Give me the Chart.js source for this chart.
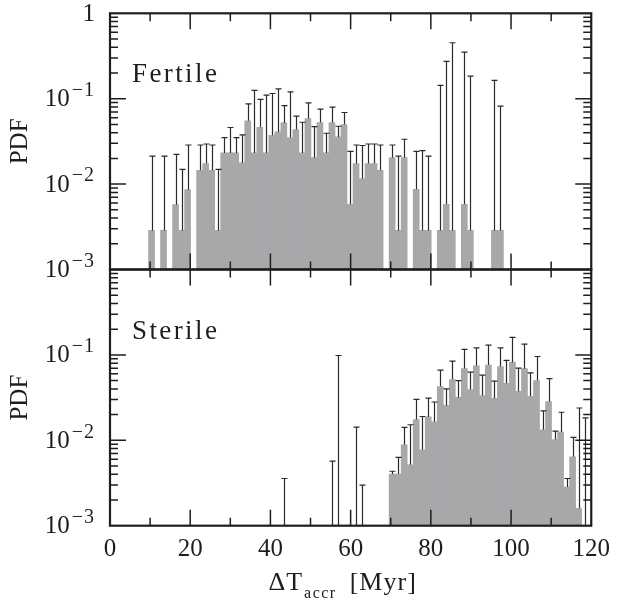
<!DOCTYPE html>
<html><head><meta charset="utf-8">
<script src="https://cdn.jsdelivr.net/npm/chart.js@4.4.1/dist/chart.umd.min.js"></script>
<style>html,body{margin:0;padding:0;background:#fff;}canvas{display:block;}</style>
</head><body>
<canvas id="c" width="619" height="604"></canvas>
<script>
// ---- data ----
// Fertile panel: bin centres (Myr), PDF value of the bar, upper end of the error bar
const fertileBins = [10.35, 13.35, 16.35, 17.85, 19.35, 22.35, 23.85, 25.35, 26.85, 28.35, 29.85, 31.35, 32.85, 34.35, 35.85, 37.35, 38.85, 40.35, 41.85, 43.35, 44.85, 46.35, 47.85, 49.35, 50.85, 52.35, 53.85, 55.35, 56.85, 58.35, 59.85, 61.35, 62.85, 64.35, 65.85, 67.35, 70.35, 71.85, 73.35, 76.35, 77.85, 79.35, 82.35, 83.85, 85.35, 88.35, 89.85, 95.85, 97.35];
const fertilePDF = [0.00287, 0.00287, 0.00574, 0.00287, 0.0086, 0.0145, 0.0174, 0.0145, 0.00287, 0.0232, 0.0232, 0.0232, 0.0177, 0.055, 0.0232, 0.0463, 0.0232, 0.0373, 0.0408, 0.052, 0.0351, 0.0435, 0.0232, 0.0586, 0.0204, 0.0526, 0.0232, 0.0526, 0.0357, 0.0498, 0.0058, 0.0174, 0.0116, 0.0174, 0.0174, 0.0145, 0.0204, 0.00287, 0.0204, 0.0087, 0.00287, 0.00287, 0.00287, 0.0058, 0.00287, 0.0058, 0.00287, 0.00287, 0.00287];
const fertileErrHi = [0.0213, 0.0213, 0.0223, 0.0149, 0.0287, 0.0287, 0.0295, 0.0287, 0.0149, 0.0351, 0.046, 0.0351, 0.0377, 0.087, 0.125, 0.098, 0.11, 0.115, 0.13, 0.083, 0.12, 0.0624, 0.053, 0.0893, 0.0472, 0.0754, 0.0394, 0.0796, 0.0476, 0.0689, 0.0242, 0.0287, 0.0283, 0.0295, 0.0295, 0.0287, 0.0287, 0.0213, 0.0335, 0.0242, 0.0247, 0.0213, 0.143, 0.273, 0.452, 0.351, 0.184, 0.164, 0.0817];

// Sterile panel (null = bar below the axis range, only its error bar shows)
const sterileBins = [43.35, 55.35, 56.85, 61.35, 62.85, 70.35, 71.85, 73.35, 74.85, 76.35, 77.85, 79.35, 80.85, 82.35, 83.85, 85.35, 86.85, 88.35, 89.85, 91.35, 92.85, 94.35, 95.85, 97.35, 98.85, 100.35, 101.85, 103.35, 104.85, 106.35, 107.85, 109.35, 110.85, 112.35, 113.85, 115.35, 116.85, 118.35];
const sterilePDF = [null, null, null, null, null, 0.00402, 0.00402, 0.00887, 0.00517, 0.0175, 0.00776, 0.0188, 0.0165, 0.0426, 0.0256, 0.0514, 0.0318, 0.0692, 0.0393, 0.0745, 0.0335, 0.076, 0.031, 0.073, 0.0465, 0.0822, 0.0375, 0.069, 0.0328, 0.0501, 0.0133, 0.0284, 0.0102, 0.0125, 0.00283, 0.00642, 0.0016, null];
const sterileErrHi = [0.00357, 0.0057, 0.0984, 0.0143, 0.00299, 0.00434, 0.0063, 0.0142, 0.0152, 0.0302, 0.019, 0.0312, 0.0281, 0.0665, 0.04, 0.0844, 0.05, 0.116, 0.063, 0.121, 0.058, 0.13, 0.0492, 0.121, 0.0865, 0.16, 0.07, 0.134, 0.0616, 0.0958, 0.0221, 0.0528, 0.0128, 0.0213, 0.00357, 0.0108, 0.0239, 0.0183];

const xTickLabels = [0, 20, 40, 60, 80, 100, 120];
const xMinorTicks = [10, 30, 50, 70, 90, 110];
const yDecades = [0, -1, -2, -3];
const panelNames = ['Fertile', 'Sterile'];
const yTitle = 'PDF';

// ---- styling ----
const FONT = '"Liberation Serif", "DejaVu Serif", serif';
const INK = '#1e1e1e';
const BAR = '#a8a8ab';

function panelPlugin() {
  return {
    id: 'panels',
    afterDatasetsDraw(chart) {
      const ctx = chart.ctx, xs = chart.scales.x;
      const sets = [
        {ys: chart.scales.yTop, xv: fertileBins, v: fertilePDF, e: fertileErrHi},
        {ys: chart.scales.yBot, xv: sterileBins, v: sterilePDF, e: sterileErrHi}
      ];
      ctx.save();
      ctx.strokeStyle = '#2a2a2a';
      ctx.lineWidth = 1.2;
      for (const s of sets) {
        for (let i = 0; i < s.xv.length; i++) {
          const px = Math.round(xs.getPixelForValue(s.xv[i])) + 0.5;
          const lo = s.v[i] == null ? s.ys.bottom : s.ys.getPixelForValue(s.v[i]);
          const hi = s.ys.getPixelForValue(s.e[i]);
          ctx.beginPath();
          ctx.moveTo(px, lo); ctx.lineTo(px, hi);
          ctx.moveTo(px - 3, hi); ctx.lineTo(px + 3, hi);
          ctx.stroke();
        }
      }
      ctx.restore();
    },
    afterDraw(chart) {
      const ctx = chart.ctx, xs = chart.scales.x, area = chart.chartArea;
      const panels = [chart.scales.yTop, chart.scales.yBot];
      ctx.save();
      ctx.strokeStyle = INK;
      ctx.fillStyle = INK;
      panels.forEach((ys, pi) => {
        const L = area.left, R = area.right, T = ys.top, B = ys.bottom;
        // ticks
        ctx.lineWidth = 1.5;
        ctx.beginPath();
        for (const d of yDecades) {
          for (let m = 1; m <= 9; m++) {
            const v = m * Math.pow(10, d);
            if (v >= ys.max - 1e-12 || v <= ys.min + 1e-12) continue;
            const p = ys.getPixelForValue(v);
            const len = m === 1 ? 16 : 8;
            ctx.moveTo(L, p); ctx.lineTo(L + len, p);
            ctx.moveTo(R, p); ctx.lineTo(R - len, p);
          }
        }
        const xt = xTickLabels.map(v => [v, 16]).concat(xMinorTicks.map(v => [v, 8]));
        for (const [v, len] of xt) {
          if (v <= xs.min || v >= xs.max) continue;
          const p = xs.getPixelForValue(v);
          ctx.moveTo(p, T); ctx.lineTo(p, T + len);
          ctx.moveTo(p, B); ctx.lineTo(p, B - len);
        }
        ctx.stroke();
        // frame
        ctx.lineWidth = 2.2;
        ctx.strokeRect(L, T, R - L, B - T);
        // y tick labels with superscript exponent
        for (const d of yDecades) {
          const v = Math.pow(10, d);
          if (pi === 1 && d === 0) continue;
          const p = ys.getPixelForValue(v);
          const xr = L - 15;
          ctx.textBaseline = 'middle';
          ctx.textAlign = 'left';
          if (d === 0) {
            ctx.font = '25px ' + FONT;
            const w = ctx.measureText('1').width;
            ctx.fillText('1', xr - w, p + 1);
          } else {
            const exp = '\u2212' + String(-d);
            ctx.font = '25px ' + FONT;
            const w1 = ctx.measureText('10').width;
            ctx.font = '20px ' + FONT;
            ctx.letterSpacing = '1px';
            const w2 = ctx.measureText(exp).width;
            const x0 = xr - w1 - w2 - 2;
            ctx.letterSpacing = '0px';
            ctx.font = '25px ' + FONT;
            ctx.fillText('10', x0, p + 1);
            ctx.font = '20px ' + FONT;
            ctx.letterSpacing = '1px';
            ctx.fillText(exp, x0 + w1 + 2, p - 8);
            ctx.letterSpacing = '0px';
          }
        }
        // panel name
        ctx.font = '27px ' + FONT;
        ctx.textBaseline = 'alphabetic';
        ctx.textAlign = 'left';
        ctx.letterSpacing = '2.4px';
        ctx.fillText(panelNames[pi], L + 22, T + 69);
        ctx.letterSpacing = '0px';
      });
      // x axis title: ΔT_accr [Myr]
      const main1 = '\u0394T', sub = 'accr', main2 = '[Myr]';
      ctx.textBaseline = 'alphabetic';
      ctx.textAlign = 'left';
      ctx.font = '26px ' + FONT;
      ctx.letterSpacing = '1px';
      const w1 = ctx.measureText(main1).width;
      const w3 = ctx.measureText(main2).width;
      ctx.font = '16px ' + FONT;
      ctx.letterSpacing = '1.5px';
      const w2 = ctx.measureText(sub).width;
      const gap = 14;
      const total = w1 + w2 + gap + w3;
      const cx = (area.left + area.right) / 2 - 8;
      let x = cx - total / 2;
      const base = 590;
      ctx.font = '26px ' + FONT;
      ctx.letterSpacing = '1px';
      ctx.fillText(main1, x, base);
      x += w1;
      ctx.font = '16px ' + FONT;
      ctx.letterSpacing = '1.5px';
      ctx.fillText(sub, x + 1, base + 8);
      x += w2 + gap;
      ctx.font = '26px ' + FONT;
      ctx.letterSpacing = '1px';
      ctx.fillText(main2, x, base);
      ctx.letterSpacing = '0px';
      ctx.restore();
    }
  };
}

const toPoints = (xs, ys) => xs.map((x, i) => ({x: x, y: ys[i]}));

new Chart(document.getElementById('c'), {
  type: 'bar',
  data: {
    datasets: [
      {label: panelNames[0], data: toPoints(fertileBins, fertilePDF), xAxisID: 'x', yAxisID: 'yTop',
       backgroundColor: BAR, borderWidth: 0, grouped: false, barPercentage: 1, categoryPercentage: 1},
      {label: panelNames[1], data: toPoints(sterileBins, sterilePDF), xAxisID: 'x', yAxisID: 'yBot',
       backgroundColor: BAR, borderWidth: 0, grouped: false, barPercentage: 1, categoryPercentage: 1}
    ]
  },
  options: {
    responsive: false,
    animation: false,
    devicePixelRatio: 1,
    layout: {padding: {top: 13.3, right: 24.7, bottom: 0, left: 0}},
    plugins: {legend: {display: false}, tooltip: {enabled: false}},
    scales: {
      x: {
        type: 'linear', position: 'bottom', min: 0, max: 120, offset: false,
        grid: {display: false, drawTicks: false}, border: {display: false},
        ticks: {stepSize: 20, padding: 9, autoSkip: false, maxRotation: 0, color: INK,
                font: {family: FONT, size: 25},
                callback: v => xTickLabels.includes(v) ? String(v) : ''},
        afterFit: s => { s.height = 78.3; }
      },
      yTop: {
        type: 'logarithmic', position: 'left', stack: 'pdf', stackWeight: 1, weight: 2,
        min: 1e-3, max: 1,
        grid: {display: false, drawTicks: false}, border: {display: false},
        ticks: {display: false},
        title: {display: true, text: yTitle, color: INK, font: {family: FONT, size: 25}, padding: {top: 5, bottom: 0}},
        afterFit: s => { s.width = 110; }
      },
      yBot: {
        type: 'logarithmic', position: 'left', stack: 'pdf', stackWeight: 1, weight: 1,
        min: 1e-3, max: 1,
        grid: {display: false, drawTicks: false}, border: {display: false},
        ticks: {display: false},
        title: {display: true, text: yTitle, color: INK, font: {family: FONT, size: 25}, padding: {top: 5, bottom: 0}},
        afterFit: s => { s.width = 110; }
      }
    }
  },
  plugins: [panelPlugin()]
});
</script>
</body></html>
